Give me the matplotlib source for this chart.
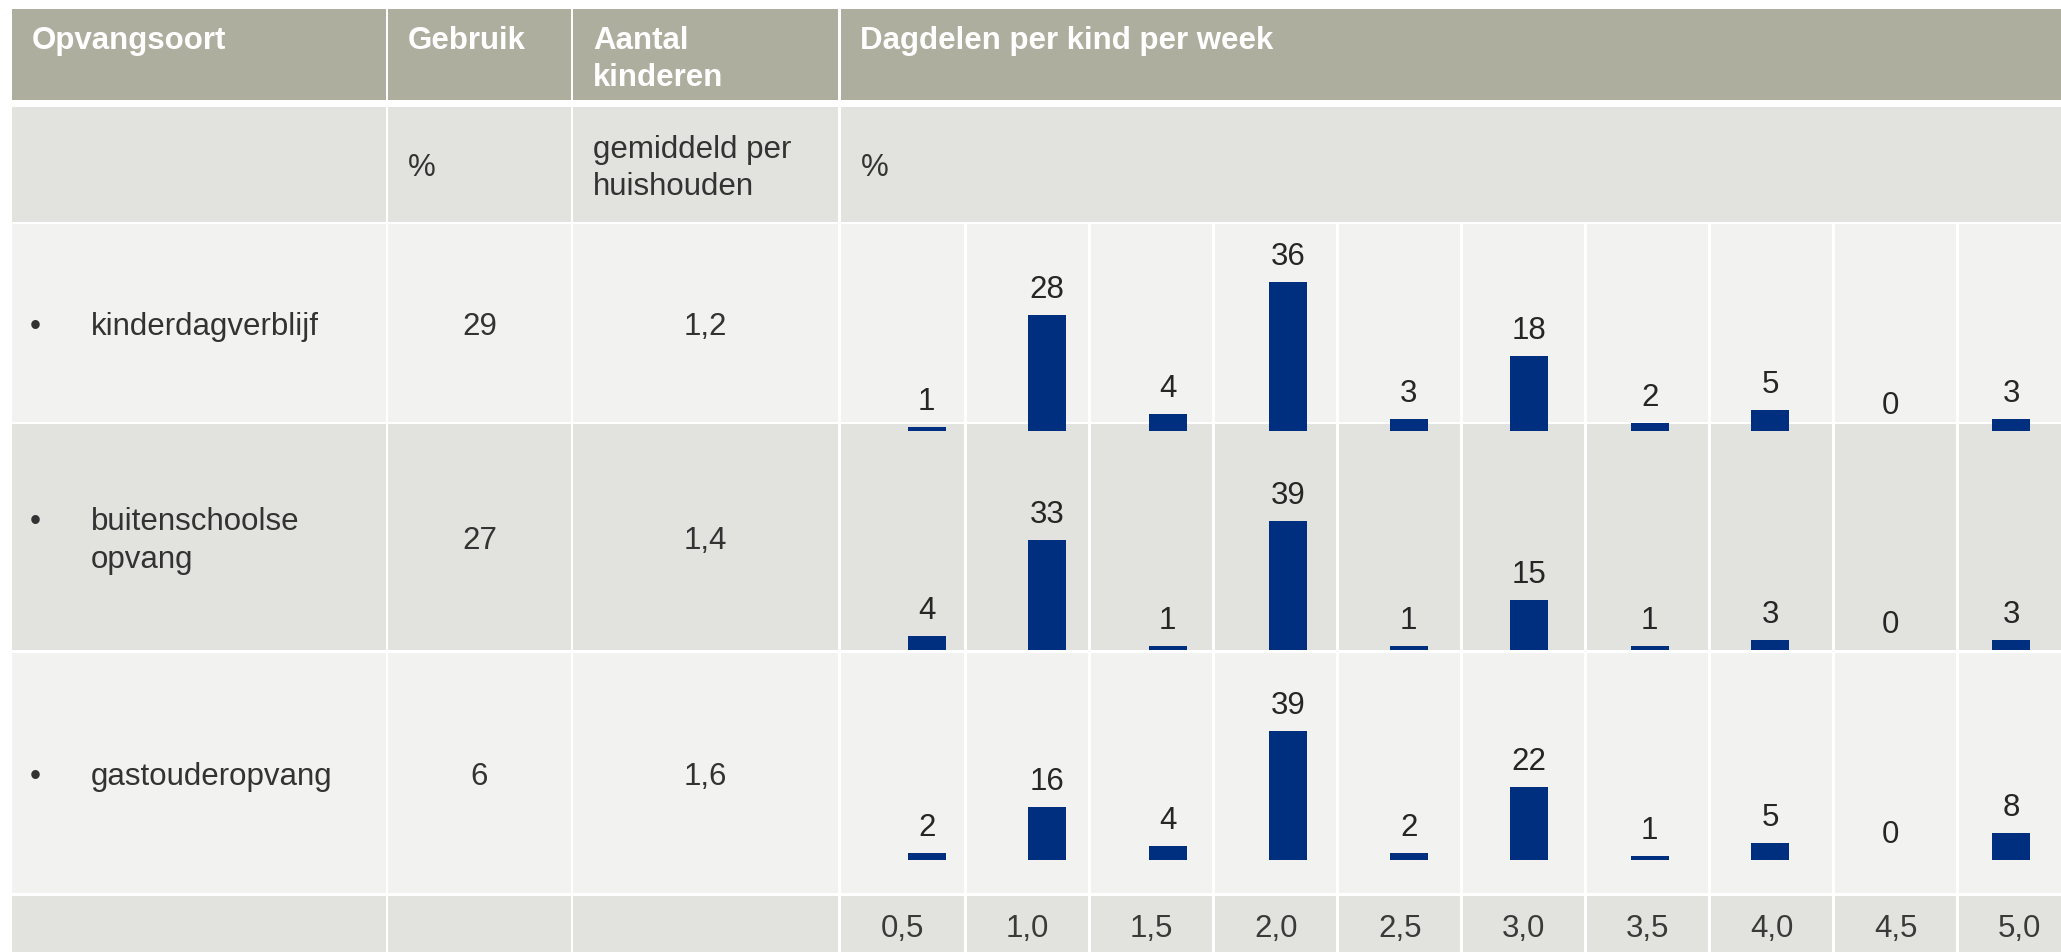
import matplotlib
matplotlib.use("Agg")
import matplotlib.pyplot as plt
from matplotlib.patches import Rectangle

# ── Data ───────────────────────────────────────────────────────────────────
header_labels = [["Opvangsoort"], ["Gebruik"], ["Aantal", "kinderen"],
                 ["Dagdelen per kind per week"]]
unit_labels = [[], ["%"], ["gemiddeld per", "huishouden"], ["%"]]

opvangsoort = [["kinderdagverblijf"], ["buitenschoolse", "opvang"], ["gastouderopvang"]]
gebruik = [29, 27, 6]
aantal_kinderen = ["1,2", "1,4", "1,6"]

dagdelen = ["0,5", "1,0", "1,5", "2,0", "2,5", "3,0", "3,5", "4,0", "4,5", "5,0"]
kinderdagverblijf = [1, 28, 4, 36, 3, 18, 2, 5, 0, 3]
buitenschoolse = [4, 33, 1, 39, 1, 15, 1, 3, 0, 3]
gastouderopvang = [2, 16, 4, 39, 2, 22, 1, 5, 0, 8]
verdelingen = [kinderdagverblijf, buitenschoolse, gastouderopvang]

# ── Style ──────────────────────────────────────────────────────────────────
HEADER_BG = "#ADAE9E"
ROW_DARK = "#E2E2DE"
ROW_LIGHT = "#F2F2F0"
BAR_COLOR = "#002F80"
TEXT = "#333333"
FONT = "Liberation Sans"
FS = 22.5

plt.rcParams["font.family"] = [FONT, "DejaVu Sans"]

# ── Layout (pixels, y measured from the top) ───────────────────────────────
W, H = 2061, 953
COL_X = [(12, 385.7), (388.3, 570.6), (573.3, 838.3), (840.9, 2080)]
ROW_Y = [(10, 100.5), (108.3, 222.7), (225.3, 422.6), (425.2, 651.2),
         (653.9, 893.6), (896.6, 965)]
ROW_BG = [HEADER_BG, ROW_DARK, ROW_LIGHT, ROW_DARK, ROW_LIGHT, ROW_DARK]
SUB_LINES = [839.6] + [965.7 + 124.0 * k for k in range(9)] + [2081.3]
GAP = 2.6
PAD = 19.5
LEAD = 37.5

BAR_BASE = [432.0, 650.7, 860.7]
PX_PER_UNIT = [4.14, 3.31, 3.31]
BAR_X0, BAR_STEP, BAR_W = 926.7, 120.5, 38.0

fig = plt.figure(figsize=(W / 100, H / 100), dpi=100, facecolor="white")
bg = fig.add_axes([0, 0, 1, 1], zorder=0)
bg.set_xlim(0, W)
bg.set_ylim(H, 0)
bg.axis("off")


def put_lines(x, y, lines, ha="left", **kw):
    for k, line in enumerate(lines):
        bg.text(x, y + k * LEAD, line, ha=ha, va="baseline", fontsize=FS,
                color=kw.get("color", TEXT), fontweight=kw.get("weight", "normal"))


# ── Table cells ────────────────────────────────────────────────────────────
for r, (y0, y1) in enumerate(ROW_Y):
    for c, (x0, x1) in enumerate(COL_X):
        if c == 3 and r >= 2:
            for k in range(len(dagdelen)):
                sx0 = SUB_LINES[k] + GAP / 2
                sx1 = SUB_LINES[k + 1] - GAP / 2
                bg.add_patch(Rectangle((sx0, y0), sx1 - sx0, y1 - y0,
                                       facecolor=ROW_BG[r], edgecolor="none"))
        else:
            bg.add_patch(Rectangle((x0, y0), x1 - x0, y1 - y0,
                                   facecolor=ROW_BG[r], edgecolor="none"))

# Header row
for c, lines in enumerate(header_labels):
    put_lines(COL_X[c][0] + PAD, 49.0, lines, color="white", weight="bold")

# Units row
for c, lines in enumerate(unit_labels):
    if not lines:
        continue
    mid = (ROW_Y[1][0] + ROW_Y[1][1]) / 2
    first = mid + 11 - (len(lines) - 1) * LEAD / 2
    put_lines(COL_X[c][0] + PAD, first, lines)

# Body rows
for i in range(3):
    y0, y1 = ROW_Y[2 + i]
    mid = (y0 + y1) / 2
    base = mid + 11
    first = base - (len(opvangsoort[i]) - 1) * LEAD / 2
    bg.text(35, first, "\u2022", ha="center", va="baseline", fontsize=FS, color=TEXT)
    put_lines(90.7, first, opvangsoort[i])
    put_lines(sum(COL_X[1]) / 2, base, [str(gebruik[i])], ha="center")
    put_lines(sum(COL_X[2]) / 2, base, [aantal_kinderen[i]], ha="center")

# Category labels in the bottom row
y_lab = (ROW_Y[5][0] + 956) / 2 + 11
for k, lab in enumerate(dagdelen):
    cx = (SUB_LINES[k] + SUB_LINES[k + 1]) / 2
    put_lines(cx, y_lab, [lab], ha="center", color="#3a3a3a")

# ── Bar charts, one per row ────────────────────────────────────────────────
x_pos = list(range(len(dagdelen)))
for i, values in enumerate(verdelingen):
    ymax = 45 if i == 0 else 50
    left = BAR_X0 - BAR_STEP / 2
    width = BAR_STEP * len(dagdelen)
    height = ymax * PX_PER_UNIT[i]
    ax = fig.add_axes([left / W, (H - BAR_BASE[i]) / H, width / W, height / H],
                      zorder=2)
    ax.patch.set_alpha(0)
    ax.set_xlim(-0.5, len(dagdelen) - 0.5)
    ax.set_ylim(0, ymax)
    ax.axis("off")
    ax.bar(x_pos, values, width=BAR_W / BAR_STEP, color=BAR_COLOR,
           linewidth=0, clip_on=False)
    for x, v in zip(x_pos, values):
        ax.annotate(str(v), (x, v), xytext=(0, 18), textcoords="offset pixels",
                    ha="center", va="baseline", fontsize=FS, color="#262626",
                    annotation_clip=False)

fig.savefig("out.png", dpi=100, facecolor="white")
